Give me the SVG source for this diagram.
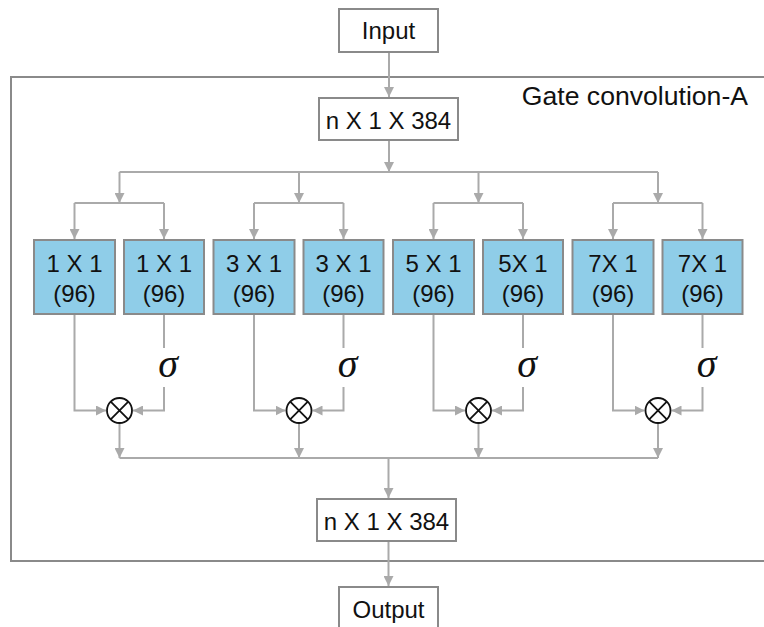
<svg xmlns="http://www.w3.org/2000/svg" width="764" height="627" viewBox="0 0 764 627">
<defs>
<style>
.box{fill:#fff;stroke:#8a8a8a;stroke-width:2}
.conv{fill:#8fcde8;stroke:#8a8a8a;stroke-width:2}
.t{font-family:"Liberation Sans",Arial,sans-serif;font-size:24px;fill:#111;text-anchor:middle}
.c{fill:none;stroke:#aaaaaa;stroke-width:2}
.a{fill:none;stroke:#aaaaaa;stroke-width:2;marker-end:url(#ah)}
.sig{font-family:"Liberation Serif","Times New Roman",serif;font-style:italic;font-size:40px;fill:#111;text-anchor:middle}
.mul{fill:#fff;stroke:#111;stroke-width:1.8}
</style>
<marker id="ah" viewBox="0 0 10 10" refX="10" refY="5" markerWidth="10" markerHeight="10" markerUnits="userSpaceOnUse" orient="auto">
<path d="M0,0 L10,5 L0,10 z" fill="#aaaaaa"/>
</marker>
<g id="mulsym">
<circle class="mul" cx="0" cy="0" r="12.5"/>
<path d="M-8.8,-8.8 L8.8,8.8 M8.8,-8.8 L-8.8,8.8" stroke="#111" stroke-width="1.8"/>
</g>
</defs>
<rect width="764" height="627" fill="#fff"/>
<g id="frame">
<rect x="11" y="77" width="800" height="484" fill="none" stroke="#8a8a8a" stroke-width="2"/>
<text class="t" x="748" y="105" style="text-anchor:end;font-size:26.6px">Gate convolution-A</text>
</g>
<g id="connectors">
<line class="a" x1="389" y1="52" x2="389" y2="97"/>
<line class="a" x1="389" y1="140" x2="389" y2="172"/>
<line class="c" x1="119.5" y1="172" x2="658" y2="172"/>
<line class="a" x1="119.5" y1="172" x2="119.5" y2="203"/>
<line class="a" x1="299" y1="172" x2="299" y2="203"/>
<line class="a" x1="478.5" y1="172" x2="478.5" y2="203"/>
<line class="a" x1="658" y1="172" x2="658" y2="203"/>
<path class="c" d="M74.5,203 H164 M254,203 H343.5 M433.5,203 H523 M613,203 H702.5"/>
<line class="a" x1="74.5" y1="203" x2="74.5" y2="239"/>
<line class="a" x1="164" y1="203" x2="164" y2="239"/>
<line class="a" x1="254" y1="203" x2="254" y2="239"/>
<line class="a" x1="343.5" y1="203" x2="343.5" y2="239"/>
<line class="a" x1="433.5" y1="203" x2="433.5" y2="239"/>
<line class="a" x1="523" y1="203" x2="523" y2="239"/>
<line class="a" x1="613" y1="203" x2="613" y2="239"/>
<line class="a" x1="702.5" y1="203" x2="702.5" y2="239"/>
<path class="a" d="M74.5,314 V410.5 H106"/>
<path class="a" d="M254,314 V410.5 H285.5"/>
<path class="a" d="M433.5,314 V410.5 H465"/>
<path class="a" d="M613,314 V410.5 H644.5"/>
<path class="c" d="M164,314 V348 M343.5,314 V348 M523,314 V348 M702.5,314 V348"/>
<path class="a" d="M164,387 V410.5 H133"/>
<path class="a" d="M343.5,387 V410.5 H312.5"/>
<path class="a" d="M523,387 V410.5 H492"/>
<path class="a" d="M702.5,387 V410.5 H671.5"/>
<line class="a" x1="119.5" y1="423" x2="119.5" y2="458"/>
<line class="a" x1="299" y1="423" x2="299" y2="458"/>
<line class="a" x1="478.5" y1="423" x2="478.5" y2="458"/>
<line class="a" x1="658" y1="423" x2="658" y2="458"/>
<line class="c" x1="119.5" y1="458" x2="658" y2="458"/>
<line class="a" x1="388.5" y1="458" x2="388.5" y2="498"/>
<line class="a" x1="388.5" y1="541" x2="388.5" y2="586"/>
</g>
<g id="input"><rect class="box" x="339" y="9" width="99" height="43"/><text class="t" x="388.5" y="39">Input</text></g>
<g id="reshape-in"><rect class="box" x="319" y="98" width="139" height="42"/><text class="t" x="388.5" y="129">n X 1 X 384</text></g>
<g id="conv1a"><rect class="conv" x="34" y="240" width="81" height="74"/><text class="t" x="74.5" y="272">1 X 1</text><text class="t" x="74.5" y="302">(96)</text></g>
<g id="conv1b"><rect class="conv" x="124" y="240" width="80" height="74"/><text class="t" x="164" y="272">1 X 1</text><text class="t" x="164" y="302">(96)</text></g>
<g id="conv3a"><rect class="conv" x="213.5" y="240" width="81" height="74"/><text class="t" x="254" y="272">3 X 1</text><text class="t" x="254" y="302">(96)</text></g>
<g id="conv3b"><rect class="conv" x="303.5" y="240" width="80" height="74"/><text class="t" x="343.5" y="272">3 X 1</text><text class="t" x="343.5" y="302">(96)</text></g>
<g id="conv5a"><rect class="conv" x="393" y="240" width="81" height="74"/><text class="t" x="433.5" y="272">5 X 1</text><text class="t" x="433.5" y="302">(96)</text></g>
<g id="conv5b"><rect class="conv" x="483" y="240" width="80" height="74"/><text class="t" x="523" y="272">5X 1</text><text class="t" x="523" y="302">(96)</text></g>
<g id="conv7a"><rect class="conv" x="572.5" y="240" width="81" height="74"/><text class="t" x="613" y="272">7X 1</text><text class="t" x="613" y="302">(96)</text></g>
<g id="conv7b"><rect class="conv" x="662.5" y="240" width="80" height="74"/><text class="t" x="702.5" y="272">7X 1</text><text class="t" x="702.5" y="302">(96)</text></g>
<g id="sigma1"><text class="sig" x="168" y="377">σ</text></g>
<g id="sigma3"><text class="sig" x="347.5" y="377">σ</text></g>
<g id="sigma5"><text class="sig" x="527" y="377">σ</text></g>
<g id="sigma7"><text class="sig" x="706.5" y="377">σ</text></g>
<g id="mul1"><use href="#mulsym" x="119.5" y="410.5"/></g>
<g id="mul3"><use href="#mulsym" x="299" y="410.5"/></g>
<g id="mul5"><use href="#mulsym" x="478.5" y="410.5"/></g>
<g id="mul7"><use href="#mulsym" x="658" y="410.5"/></g>
<g id="reshape-out"><rect class="box" x="317" y="499" width="139" height="42"/><text class="t" x="386.5" y="530">n X 1 X 384</text></g>
<g id="output"><rect class="box" x="339" y="587" width="99" height="50"/><text class="t" x="388.5" y="618">Output</text></g>
</svg>
